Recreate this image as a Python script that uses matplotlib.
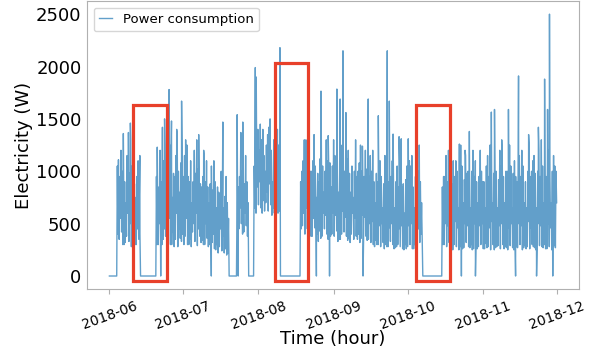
import numpy as np
import pandas as pd
import matplotlib
matplotlib.use("Agg")
from matplotlib import pyplot as plt
import matplotlib.dates as mdates
from matplotlib.patches import Rectangle

start = "2018-06-01"

# four readings per day, Jun 1 .. Nov 30:
# 00:00 trough, 06:00 peak, 12:00 trough, 18:00 peak
daily_low = [
    0, 0, 0,
    0,
    350, 420, 300, 380, 330, 280, 400, 300, 350,
    0, 0, 0, 0, 0, 0,
    0, 300, 0, 350,
    380, 330, 300, 420, 350, 280, 360, 400,
    380, 300, 350, 420, 330, 290, 380, 340, 300, 360,
    300, 320, 260, 300, 280, 240, 220, 200,
    0, 0, 0,
    0,
    450, 500, 420, 480,
    0, 0,
    0,
    600, 680, 650, 720, 700, 620, 680, 650, 700, 600,
    0, 0, 0, 0, 0, 0, 0, 0,
    0,
    480, 400, 450, 420, 380, 460, 400, 430, 380, 450, 400, 420,
    400, 380, 430, 350, 400, 420, 380, 360, 400, 350, 380, 400, 360, 330, 380,
    350, 320, 300, 340, 300, 280, 320, 300, 280, 330, 300, 270, 300, 280, 260, 300,
    280, 300, 260, 300, 280, 320,
    350,
    0, 0, 0, 0, 0, 0, 0,
    0,
    300, 280, 320, 260, 300, 280, 250, 300, 270, 320, 280, 300, 260, 290,
    280, 300, 260, 310, 280, 250, 300, 270, 290, 260, 300, 280, 250, 290, 270, 300,
    270, 300, 250, 290, 280, 260, 300, 270, 250, 290, 280, 300, 260, 280, 250, 290,
]
daily_high = [
    0, 0, 0,
    1050,
    950, 1000, 900, 1150, 980, 1050, 880, 950, 800,
    0, 0, 0, 0, 0, 0,
    950, 850, 900, 1100,
    1100, 1050, 1200, 980, 1150, 1000, 1080, 950,
    1000, 950, 1100, 900, 980, 1020, 880, 950, 900, 850,
    880, 820, 900, 850, 780, 800, 760, 700,
    0, 0, 0,
    750,
    950, 1000, 880, 900,
    0, 0,
    1050,
    1250, 1200, 1300, 1150, 1250, 1350, 1200, 1300, 1180, 1250,
    0, 0, 0, 0, 0, 0, 0, 0,
    900,
    1100, 1050, 1150, 1000, 1100, 1050, 980, 1120, 1050, 1000, 1100, 1080,
    1050, 1150, 1000, 1100, 1050, 1000, 1120, 980, 1050, 1000, 950, 1080, 1000, 950, 1020,
    950, 1000, 900, 980, 920, 950, 880, 1000, 900, 950, 880, 900, 850, 900, 880, 920,
    900, 1050, 850, 950, 1000, 900,
    0,
    0, 0, 0, 0, 0, 0, 0,
    850,
    950, 900, 1000, 880, 950, 1000, 900, 1050, 920, 980, 900, 1000, 950, 900,
    950, 1000, 900, 1050, 950, 1100, 980, 1000, 920, 1050, 950, 1000, 900, 1050, 980, 950,
    1000, 950, 1050, 900, 1000, 950, 1100, 980, 1000, 950, 1050, 1000, 1100, 950, 1000, 1050,
]
daily_low2 = [
    0, 0, 0,
    400,
    550, 300, 320, 600, 500, 350, 300, 450, 400,
    0, 0, 0, 0, 0, 0,
    300, 500, 300, 450,
    500, 550, 300, 280, 600, 450, 330, 300,
    550, 300, 280, 500, 600, 450, 320, 300, 500, 280,
    450, 400, 250, 220, 450, 380, 260, 220,
    0, 0, 0,
    400,
    650, 400, 600, 380,
    0, 0,
    650,
    850, 900, 600, 620, 800, 880, 580, 600, 850, 620,
    0, 0, 0, 0, 0, 0, 0, 0,
    450,
    600, 650, 350, 380, 550, 620, 330, 360, 600, 580, 350, 380,
    600, 580, 330, 350, 620, 560, 340, 320, 600, 550, 350, 320, 580, 560, 340,
    500, 520, 280, 300, 480, 500, 260, 280, 460, 500, 260, 280, 450, 480, 250, 260,
    480, 500, 260, 250, 450, 400,
    0,
    0, 0, 0, 0, 0, 0, 0,
    300,
    500, 480, 270, 250, 520, 460, 280, 260, 500, 480, 270, 250, 500, 260,
    480, 500, 260, 270, 460, 520, 250, 280, 480, 500, 260, 270, 460, 500, 250, 280,
    500, 480, 270, 260, 520, 460, 280, 250, 500, 480, 270, 260, 500, 460, 280, 270,
]
daily_high2 = [
    0, 0, 0,
    900,
    1200, 1250, 700, 800, 1300, 1050, 750, 1100, 0,
    0, 0, 0, 0, 0, 0,
    750, 1200, 700, 1250,
    1300, 1250, 750, 950, 1350, 800, 1200, 1150,
    1250, 900, 700, 1200, 1300, 750, 850, 1150, 1100, 700,
    1050, 1100, 650, 800, 1000, 650, 950, 550,
    0, 0, 0,
    850,
    1200, 750, 1150, 700,
    0, 0,
    1150,
    1400, 1450, 950, 1000, 1350, 1500, 900, 1000, 1400, 1200,
    0, 0, 0, 0, 0, 0, 0, 0,
    1000,
    1300, 1250, 800, 1000, 1350, 750, 900, 1200, 800, 1300, 1050, 850,
    1300, 1050, 800, 1250, 750, 1350, 1200, 800, 750, 1300, 1000, 1250, 700, 1200, 1150,
    1150, 1200, 700, 900, 1100, 650, 1150, 1000, 700, 1100, 650, 1050, 1100, 850, 600, 1050,
    1100, 1150, 650, 900, 1000, 700,
    0,
    0, 0, 0, 0, 0, 0, 0,
    950,
    1150, 1200, 700, 900, 1100, 650, 1250, 700, 1150, 1000, 650, 1200, 1100, 700,
    1200, 900, 650, 1150, 1250, 700, 1100, 650, 1200, 1150, 700, 1000, 1250, 650, 1100, 900,
    1150, 1200, 700, 650, 1250, 1000, 1150, 650, 1200, 1300, 700, 950, 1200, 700, 1150, 1000,
]
last_reading = ("2018-12-01 00:00", 700)

peak_times = [
    "2018-06-04 17:00", "2018-06-06 17:00", "2018-06-08 19:00", "2018-06-09 14:00",
    "2018-06-13 11:00", "2018-06-20 14:00", "2018-06-22 17:00", "2018-06-23 14:00",
    "2018-06-25 10:00", "2018-06-26 10:00", "2018-06-28 13:00", "2018-06-30 13:00",
    "2018-07-02 05:00", "2018-07-07 13:00", "2018-07-09 14:00", "2018-07-17 10:00",
    "2018-07-23 07:00", "2018-07-24 19:00", "2018-07-25 14:00", "2018-07-30 17:00",
    "2018-07-31 02:00", "2018-08-02 19:00", "2018-08-05 05:00", "2018-08-09 19:00",
    "2018-08-20 10:00", "2018-08-26 14:00", "2018-08-29 13:00", "2018-09-02 02:00",
    "2018-09-03 10:00", "2018-09-04 14:00", "2018-09-05 19:00", "2018-09-12 13:00",
    "2018-09-14 22:00", "2018-09-19 01:00", "2018-09-22 17:00", "2018-09-23 13:00",
    "2018-09-25 02:00", "2018-09-27 13:00", "2018-09-28 10:00", "2018-10-01 07:00",
    "2018-10-05 19:00", "2018-10-19 17:00", "2018-10-22 05:00", "2018-10-24 13:00",
    "2018-10-26 07:00", "2018-11-04 07:00", "2018-11-05 14:00", "2018-11-08 13:00",
    "2018-11-11 07:00", "2018-11-15 10:00", "2018-11-19 13:00", "2018-11-23 13:00",
    "2018-11-26 02:00", "2018-11-27 07:00", "2018-11-28 02:00",
]
peak_values = [
    1110, 1360, 1370, 1460,
    1150, 1230, 1420, 1500,
    1780, 1480, 1400, 1670,
    1300, 1350, 1200, 1470,
    1540, 1370, 1470, 1990,
    1900, 1400, 1420, 2180,
    1300, 1765, 1340, 1785,
    1690, 2150, 1560, 1240,
    1690, 1530, 2150, 1670,
    1355, 1330, 1310, 1310,
    1250, 1100, 1260, 1200,
    1380, 1565, 1590, 1300,
    1590, 1910, 1350, 1420,
    1880, 1590, 2500,
]
dropout_times = [
    "2018-07-12 17:00", "2018-07-23 17:00", "2018-08-24 17:00", "2018-08-30 02:00",
    "2018-09-12 19:00", "2018-10-23 01:00", "2018-10-28 19:00", "2018-11-14 05:00",
    "2018-11-22 19:00", "2018-11-29 10:00",
]

# highlighted missing-data windows: (start, end, top)
gap_boxes = [
    ("2018-06-10 20:00", "2018-06-24 10:00", 1630),
    ("2018-08-07 17:00", "2018-08-21 05:00", 2030),
    ("2018-10-04 14:00", "2018-10-18 12:00", 1630),
]
box_bottom = -50

days = pd.date_range(start, periods=len(daily_low), freq="D")
parts = [
    pd.Series(daily_low, index=days),
    pd.Series(daily_high, index=days + pd.Timedelta(hours=6)),
    pd.Series(daily_low2, index=days + pd.Timedelta(hours=12)),
    pd.Series(daily_high2, index=days + pd.Timedelta(hours=18)),
    pd.Series(peak_values, index=pd.to_datetime(peak_times)),
    pd.Series(0, index=pd.to_datetime(dropout_times)),
    pd.Series([last_reading[1]], index=pd.to_datetime([last_reading[0]])),
]
power = pd.concat(parts).sort_index()

fig, ax = plt.subplots(figsize=(5.92, 3.5), dpi=100)
fig.subplots_adjust(left=0.147, right=0.978, top=0.997, bottom=0.174)

ax.plot(power.index, power.values, color="#1f77b4", alpha=0.7, linewidth=1,
        label="Power consumption")

for b_start, b_end, b_top in gap_boxes:
    x0 = mdates.date2num(pd.Timestamp(b_start))
    x1 = mdates.date2num(pd.Timestamp(b_end))
    ax.add_patch(Rectangle((x0, box_bottom), x1 - x0, b_top - box_bottom,
                           fill=False, edgecolor="#e8402a", linewidth=2.3, zorder=3))

ax.set_ylim(-125, 2625)
ax.set_yticks([0, 500, 1000, 1500, 2000, 2500])
ax.xaxis.set_major_locator(mdates.MonthLocator())
ax.xaxis.set_major_formatter(mdates.DateFormatter("%Y-%m"))
plt.setp(ax.get_xticklabels(), rotation=20, fontsize=10)
plt.setp(ax.get_yticklabels(), fontsize=13)

for s in ax.spines.values():
    s.set_color("#b0b0b0")
ax.tick_params(colors="#b0b0b0", labelcolor="black")
ax.tick_params(axis="y", length=0, pad=4)

ax.set_xlabel("Time (hour)", fontsize=13, labelpad=-1)
ax.set_ylabel("Electricity (W)", fontsize=13, labelpad=2)
ax.legend(loc="upper left", fontsize=9.5, handlelength=1.0)

fig.savefig("out.png", dpi=100)
